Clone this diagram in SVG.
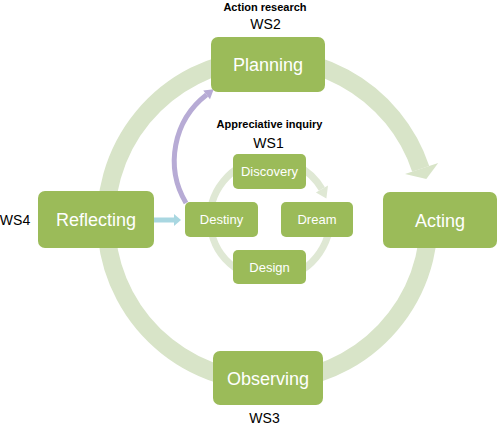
<svg xmlns="http://www.w3.org/2000/svg" width="500" height="426" viewBox="0 0 500 426">
<style>
.box{fill:#9bbb59}
.lbl{font-family:"Liberation Sans",Arial,sans-serif;fill:#ffffff;text-anchor:middle}
.big{font-size:18px}
.small{font-size:13px}
.cap{font-family:"Liberation Sans",Arial,sans-serif;fill:#000000;text-anchor:middle}
.hdr{font-size:11px;font-weight:bold}
.ws{font-size:14px}
.ring{fill:none;stroke:#d8e4c8;stroke-width:18}
.iring{fill:none;stroke:#dfe8d4;stroke-width:7}
</style>
<rect width="500" height="426" fill="#ffffff"/>
<g id="connectors">
  <path class="ring" d="M225.7 64 A161.5 161.5 0 0 1 420.7 168.8"/>
  <polygon points="405,174 438.2,162.9 426.3,178.9" fill="#d8e4c8"/>
  <path class="ring" d="M427.4 197.5 A161.5 161.5 0 1 1 253.4 59.1"/>
  <path class="iring" d="M264.8 159.2 A60 60 0 0 1 321.9 189"/>
  <polygon points="315.9,192.5 328,185.5 326.4,198.5" fill="#dfe8d4"/>
  <path class="iring" d="M328.7 206.5 A60 60 0 1 1 264.8 159.2"/>
  <path d="M186 203 A83 83 0 0 1 206.6 94.8" fill="none" stroke="#b7abd5" stroke-width="5"/>
  <polygon points="209.96,99.16 213.7,89.3 203.24,90.44" fill="#b7abd5"/>
  <line x1="154" y1="220" x2="175" y2="220" stroke="#a9d7e1" stroke-width="5"/>
  <polygon points="174,214 181,220 174,226" fill="#a9d7e1"/>
</g>
<g id="planning">
  <rect class="box" x="211" y="37" width="114" height="55" rx="7"/>
  <text class="lbl big" x="268" y="71">Planning</text>
</g>
<g id="acting">
  <rect class="box" x="383" y="192" width="114" height="56" rx="7"/>
  <text class="lbl big" x="440" y="226.5">Acting</text>
</g>
<g id="observing">
  <rect class="box" x="213" y="351" width="110" height="54" rx="7"/>
  <text class="lbl big" x="268" y="384.5">Observing</text>
</g>
<g id="reflecting">
  <rect class="box" x="38" y="191" width="116" height="57" rx="7"/>
  <text class="lbl big" x="96" y="226">Reflecting</text>
</g>
<g id="discovery">
  <rect class="box" x="233" y="154" width="73" height="35" rx="5"/>
  <text class="lbl small" x="269.5" y="176">Discovery</text>
</g>
<g id="dream">
  <rect class="box" x="281" y="202" width="72" height="35" rx="5"/>
  <text class="lbl small" x="317" y="224">Dream</text>
</g>
<g id="design">
  <rect class="box" x="233" y="250" width="73" height="34" rx="5"/>
  <text class="lbl small" x="269.5" y="271.5">Design</text>
</g>
<g id="destiny">
  <rect class="box" x="185" y="202" width="73" height="35" rx="5"/>
  <text class="lbl small" x="221.5" y="224">Destiny</text>
</g>
<g id="captions">
  <text class="cap hdr" x="265" y="11">Action research</text>
  <text class="cap ws" x="265.5" y="29">WS2</text>
  <text class="cap hdr" x="269.5" y="128">Appreciative inquiry</text>
  <text class="cap ws" x="268.5" y="148">WS1</text>
  <text class="cap ws" x="15" y="225">WS4</text>
  <text class="cap ws" x="264.5" y="423">WS3</text>
</g>
</svg>
